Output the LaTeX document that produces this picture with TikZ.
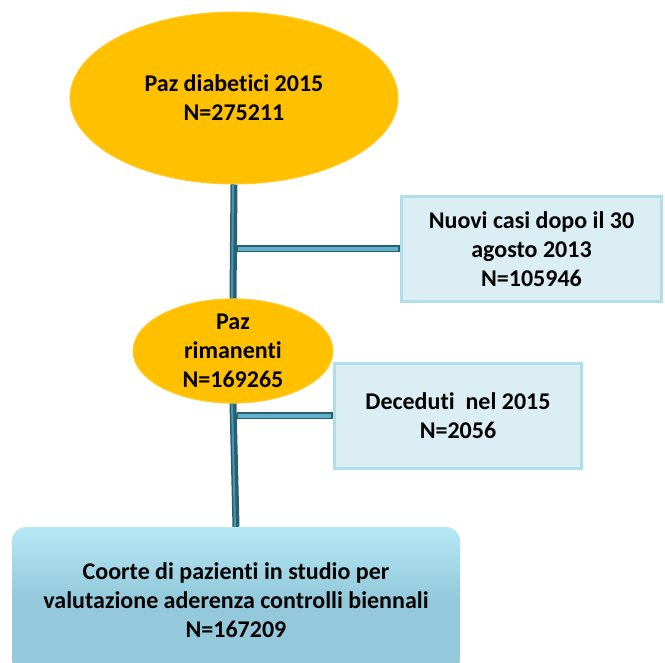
\documentclass[tikz,border=0pt]{standalone}
\usepackage{fontspec}
\setmainfont{Carlito}[Ligatures=NoCommon]
\usepackage{xcolor}
\usetikzlibrary{shapes.geometric,positioning}

\definecolor{gold}{RGB}{255,192,0}
\definecolor{paleblue}{RGB}{219,238,244}
\definecolor{glowblue}{RGB}{178,222,234}
\definecolor{cohortblue}{RGB}{147,201,219}
\definecolor{cohorttop}{RGB}{182,232,245}
\definecolor{trunkdark}{RGB}{40,96,114}
\definecolor{trunklight}{RGB}{70,150,172}
\definecolor{branchlight}{RGB}{96,178,204}

\begin{document}
\begin{tikzpicture}[x=1pt, y=-1pt]
            \tikzstyle{txt} = [align=center, text=black, font=\bfseries\fontsize{24}{29}\selectfont]
            \tikzstyle{pop} = [txt, ellipse, fill=gold, draw=gold!80!white, line width=1pt, inner sep=0pt]
            \tikzstyle{excl} = [txt, rectangle, fill=paleblue, draw=glowblue, line width=3.5pt, inner sep=0pt]
            \tikzstyle{cohort} = [txt, rectangle, rounded corners=14pt, top color=cohorttop, bottom color=cohortblue, middle color=cohortblue, inner sep=0pt]
            \useasboundingbox (0,0) rectangle (665,663);

            \node [pop, minimum width=328pt, minimum height=172pt] (P0) at (234,98) {Paz diabetici 2015\\N=275211};
            \node [pop, minimum width=200pt, minimum height=98pt] (P1) at (233,351) {Paz\\rimanenti\\N=169265};
            \node [excl, minimum width=260pt, minimum height=105pt] (E1) at (531.5,249) {Nuovi casi dopo il 30\\agosto 2013\\N=105946};
            \node [excl, minimum width=247pt, minimum height=105pt] (E2) at (458,416) {Deceduti\ \ nel 2015\\N=2056};
            \node [cohort, minimum width=448pt, minimum height=146pt] (C) at (236,600) {Coorte di pazienti in studio per\\valutazione aderenza controlli biennali\\N=167209};

            % trunk
            \draw [trunkdark, line width=7pt] (P0.south) -- (P1.north);
            \draw [trunklight, line width=2pt] ([xshift=-1pt]P0.south) -- ([xshift=-1pt]P1.north);
            \draw [trunkdark, line width=7pt] (P1.south) -- (C.north);
            \draw [trunklight, line width=2pt] ([xshift=-1pt]P1.south) -- ([xshift=-1pt]C.north);

            % branches
            \foreach \e in {E1, E2} {
                \draw [trunkdark, line width=7pt] (\e.west -| P0.south) ++(3pt,0) -- (\e.west);
                \draw [branchlight, line width=4pt] (\e.west -| P0.south) ++(4pt,0) -- ([xshift=-2pt]\e.west);
            }
        \end{tikzpicture}
\end{document}
